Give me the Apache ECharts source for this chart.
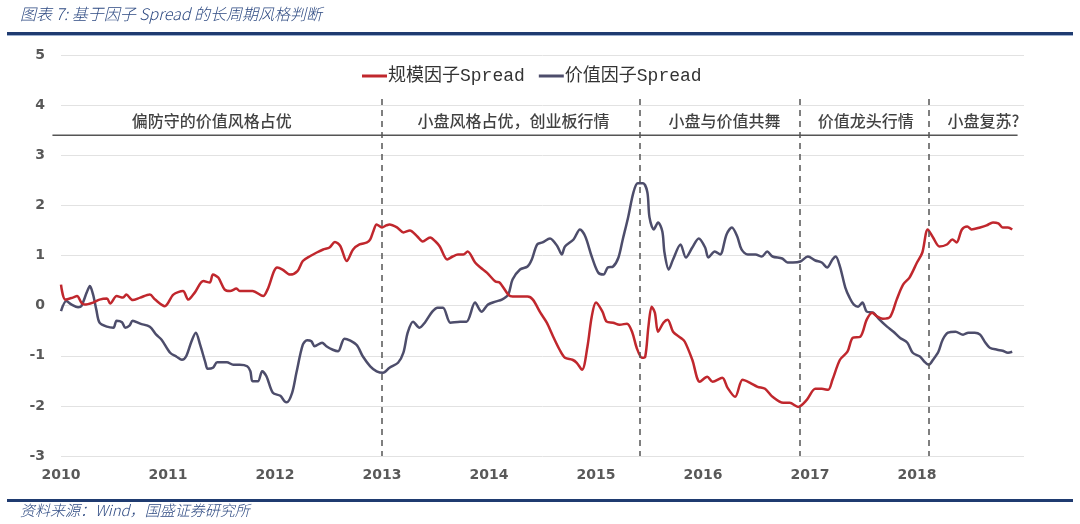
<!DOCTYPE html>
<html><head><meta charset="utf-8">
<script src="https://cdn.jsdelivr.net/npm/echarts@6/dist/echarts.min.js"></script>
<style>html,body{margin:0;padding:0;background:#fff}#c{width:1080px;height:524px}</style>
</head><body><div id="c"></div>
<script>
const titleText = '图表 7: 基于因子 Spread 的长周期风格判断';
const sourceText = '资料来源：Wind，国盛证券研究所';
const seriesNames = ['规模因子Spread', '价值因子Spread'];
const yearTicks = [2010, 2011, 2012, 2013, 2014, 2015, 2016, 2017, 2018];

// 规模因子Spread (red)
const sizeX = [2010.00,2010.04,2010.11,2010.15,2010.19,2010.22,2010.30,2010.36,2010.43,2010.46,2010.52,2010.58,2010.61,2010.67,2010.74,2010.83,2010.88,2010.97,
2011.05,2011.14,2011.19,2011.25,2011.33,2011.39,2011.42,2011.47,2011.53,2011.58,2011.64,2011.67,2011.79,2011.89,2011.93,
2012.02,2012.07,2012.14,2012.21,2012.26,2012.33,2012.39,2012.45,2012.51,2012.56,2012.61,2012.67,2012.73,2012.79,2012.86,2012.89,2012.92,2012.95,
2013.00,2013.04,2013.07,2013.14,2013.20,2013.26,2013.33,2013.38,2013.45,2013.50,2013.54,2013.61,2013.66,2013.71,2013.76,2013.80,2013.87,2013.92,2013.98,
2014.06,2014.10,2014.18,2014.22,2014.36,2014.41,2014.48,2014.54,2014.60,2014.66,2014.71,2014.78,2014.82,2014.87,2014.92,2014.96,
2015.00,2015.06,2015.10,2015.16,2015.22,2015.29,2015.34,2015.38,2015.43,2015.46,2015.49,2015.52,2015.55,2015.58,2015.63,2015.67,2015.72,2015.79,2015.83,2015.90,2015.97,
2016.04,2016.09,2016.18,2016.23,2016.30,2016.37,2016.44,2016.51,2016.58,2016.65,2016.75,2016.81,2016.89,2016.97,
2017.05,2017.11,2017.17,2017.21,2017.28,2017.35,2017.40,2017.47,2017.53,2017.58,2017.63,2017.68,2017.75,2017.81,2017.87,2017.93,
2018.00,2018.05,2018.10,2018.15,2018.21,2018.28,2018.33,2018.37,2018.42,2018.47,2018.51,2018.59,2018.65,2018.71,2018.76,2018.80,2018.85,2018.89];
const sizeY = [0.42,0.12,0.16,0.19,0.06,0.02,0.06,0.12,0.14,0.04,0.19,0.16,0.22,0.11,0.16,0.22,0.12,-0.01,
0.22,0.29,0.12,0.26,0.49,0.46,0.62,0.56,0.32,0.29,0.34,0.29,0.29,0.19,0.32,
0.76,0.72,0.62,0.69,0.89,0.99,1.06,1.12,1.16,1.27,1.19,0.89,1.12,1.22,1.26,1.32,1.49,1.62,
1.56,1.60,1.62,1.56,1.46,1.50,1.38,1.28,1.36,1.28,1.18,0.92,0.98,1.02,1.02,1.08,0.86,0.76,0.66,
0.48,0.46,0.22,0.18,0.18,0.12,-0.14,-0.34,-0.62,-0.88,-1.04,-1.08,-1.14,-1.28,-0.82,-0.22,
0.06,-0.12,-0.32,-0.34,-0.38,-0.36,-0.54,-0.84,-1.04,-1.02,-0.42,-0.02,-0.14,-0.52,-0.34,-0.28,-0.52,-0.64,-0.72,-1.08,-1.52,
-1.42,-1.52,-1.44,-1.64,-1.82,-1.48,-1.54,-1.62,-1.66,-1.82,-1.94,-1.94,-2.02,-1.88,
-1.66,-1.66,-1.68,-1.48,-1.08,-0.92,-0.64,-0.62,-0.28,-0.14,-0.22,-0.26,-0.22,0.12,0.42,0.56,
0.86,1.06,1.52,1.36,1.18,1.22,1.32,1.26,1.52,1.58,1.52,1.56,1.60,1.66,1.64,1.56,1.56,1.52];

// 价值因子Spread (slate)
const valueX = [2010.00,2010.05,2010.10,2010.16,2010.19,2010.24,2010.27,2010.30,2010.33,2010.36,2010.43,2010.49,2010.52,2010.57,2010.60,2010.64,2010.67,2010.74,2010.83,2010.89,2010.94,
2011.02,2011.08,2011.13,2011.17,2011.22,2011.26,2011.30,2011.35,2011.37,2011.42,2011.46,2011.55,2011.61,2011.67,2011.74,2011.77,2011.79,2011.84,2011.88,2011.92,2011.98,
2012.05,2012.09,2012.11,2012.16,2012.20,2012.26,2012.30,2012.34,2012.37,2012.44,2012.48,2012.54,2012.59,2012.65,2012.76,2012.82,2012.89,2012.95,
2013.01,2013.07,2013.15,2013.20,2013.24,2013.29,2013.35,2013.40,2013.47,2013.52,2013.57,2013.64,2013.73,2013.79,2013.87,2013.93,2013.99,
2014.06,2014.12,2014.18,2014.22,2014.29,2014.36,2014.40,2014.45,2014.50,2014.57,2014.64,2014.68,2014.71,2014.79,2014.85,2014.90,2014.96,
2015.02,2015.07,2015.11,2015.16,2015.21,2015.25,2015.30,2015.35,2015.39,2015.44,2015.48,2015.50,2015.54,2015.58,2015.62,2015.64,2015.68,2015.72,2015.79,2015.84,2015.90,2015.96,
2016.02,2016.05,2016.11,2016.16,2016.22,2016.27,2016.32,2016.36,2016.42,2016.49,2016.55,2016.60,2016.65,2016.74,2016.79,2016.84,2016.91,2016.98,
2017.05,2017.11,2017.16,2017.21,2017.24,2017.28,2017.33,2017.37,2017.41,2017.45,2017.49,2017.53,2017.59,2017.65,2017.72,2017.78,2017.84,2017.91,2017.96,
2018.03,2018.07,2018.11,2018.15,2018.20,2018.24,2018.29,2018.36,2018.43,2018.48,2018.54,2018.59,2018.64,2018.68,2018.75,2018.80,2018.85,2018.89];
const valueY = [-0.11,0.09,0.02,-0.03,-0.01,0.26,0.39,0.22,-0.08,-0.34,-0.42,-0.44,-0.30,-0.33,-0.44,-0.40,-0.30,-0.36,-0.42,-0.58,-0.68,
-0.94,-1.02,-1.08,-1.01,-0.71,-0.54,-0.78,-1.14,-1.26,-1.24,-1.13,-1.13,-1.18,-1.18,-1.21,-1.31,-1.51,-1.51,-1.31,-1.41,-1.74,
-1.80,-1.91,-1.93,-1.74,-1.34,-0.78,-0.69,-0.71,-0.81,-0.74,-0.81,-0.88,-0.91,-0.66,-0.78,-1.01,-1.21,-1.31,
-1.34,-1.24,-1.14,-0.94,-0.54,-0.32,-0.44,-0.34,-0.12,-0.04,-0.04,-0.34,-0.32,-0.32,0.06,-0.12,0.02,
0.08,0.12,0.22,0.52,0.72,0.78,0.92,1.22,1.26,1.34,1.18,1.02,1.18,1.32,1.52,1.38,0.98,
0.66,0.62,0.76,0.78,0.96,1.32,1.76,2.26,2.44,2.44,2.26,1.76,1.52,1.66,1.48,1.06,0.72,0.92,1.22,0.96,1.16,1.34,
1.16,0.96,1.08,1.02,1.42,1.56,1.38,1.12,1.02,1.02,0.98,1.08,0.98,0.94,0.86,0.86,0.88,0.98,
0.90,0.86,0.76,0.92,0.98,0.78,0.36,0.16,0.02,-0.02,0.06,-0.12,-0.14,-0.28,-0.42,-0.52,-0.64,-0.74,-0.94,
-1.02,-1.12,-1.18,-1.08,-0.92,-0.68,-0.54,-0.52,-0.58,-0.54,-0.54,-0.58,-0.74,-0.84,-0.88,-0.90,-0.94,-0.92];

// phase annotations
const phaseBreaks = [2013.0, 2015.41, 2016.90, 2018.11];
const breakSpan = [4.12, -3.0];
const phaseLabels = ['偏防守的价值风格占优', '小盘风格占优，创业板行情', '小盘与价值共舞', '价值龙头行情', '小盘复苏?'];
const phaseLabelX = [2011.41, 2014.23, 2016.20, 2017.52, 2018.62];
const phaseLabelY = 3.68;
const headerLineY = 3.4;
const headerLineX = [2009.92, 2018.94];

const RED = '#C0272D', SLATE = '#4D4D6B', NAVY = '#1F3B70', TITLE_BLUE = '#2E4A82';
const chart = echarts.init(document.getElementById('c'), null, {renderer: 'canvas'});
const axisFont = {fontFamily: 'DejaVu Sans', fontWeight: 'bold', fontSize: 14, color: '#595959'};

chart.setOption({
  animation: false,
  backgroundColor: '#fff',
  grid: {left: 61, right: 56, top: 55, bottom: 68},
  legend: {
    data: seriesNames, left: 357, top: 62, icon: 'rect', itemWidth: 25, itemHeight: 3, itemGap: 14,
    textStyle: {fontFamily: "'Liberation Mono','Noto Sans CJK SC'", fontSize: 18, color: '#333', padding: [0,0,0,-4]}
  },
  xAxis: {
    type: 'value', min: 2010, max: 2019, interval: 1,
    axisLine: {show: false}, axisTick: {show: false}, splitLine: {show: false},
    axisLabel: Object.assign({margin: 12, showMaxLabel: false,
      formatter: v => (yearTicks.indexOf(v) >= 0 ? String(v) : '')}, axisFont)
  },
  yAxis: {
    type: 'value', min: -3, max: 5, interval: 1,
    axisLine: {show: false}, axisTick: {show: false},
    splitLine: {lineStyle: {color: '#e2e2e2', width: 1}},
    axisLabel: Object.assign({margin: 16}, axisFont)
  },
  series: [
    {
      name: seriesNames[0], type: 'line', showSymbol: false, smooth: 0.3, z: 3,
      data: sizeX.map((x, i) => [x, sizeY[i]]),
      lineStyle: {color: RED, width: 2.5}, itemStyle: {color: RED},
      markLine: {
        silent: true, symbol: 'none', animation: false, label: {show: false},
        lineStyle: {color: '#555', width: 1.5, type: [6, 5]},
        data: phaseBreaks.map(x => [{coord: [x, breakSpan[0]]}, {coord: [x, breakSpan[1]]}])
      }
    },
    {
      name: seriesNames[1], type: 'line', showSymbol: false, smooth: 0.3, z: 2,
      data: valueX.map((x, i) => [x, valueY[i]]),
      lineStyle: {color: SLATE, width: 2.5}, itemStyle: {color: SLATE}
    },
    {
      name: 'phases', type: 'scatter', symbolSize: 0, silent: true,
      data: phaseLabelX.map((x, i) => [x, phaseLabelY]),
      label: {show: true, position: 'inside', formatter: p => phaseLabels[p.dataIndex],
        fontFamily: 'Noto Sans CJK SC', fontWeight: 500, fontSize: 16, color: '#111'}
    }
  ]
});

const p1 = chart.convertToPixel({gridIndex: 0}, [headerLineX[0], headerLineY]);
const p2 = chart.convertToPixel({gridIndex: 0}, [headerLineX[1], headerLineY]);
chart.setOption({
  graphic: [
    {id: 'title', type: 'text', left: 20, top: 6, style: {text: titleText, fontFamily: "'Noto Sans CJK SC'", fontStyle: 'italic', fontWeight: 300, fontSize: 16, fill: TITLE_BLUE}},
    {id: 'topRule', type: 'rect', shape: {x: 7, y: 32, width: 1066, height: 3}, style: {fill: NAVY}},
    {id: 'topRule2', type: 'rect', shape: {x: 7, y: 35, width: 1066, height: 1}, style: {fill: '#9DB0CF'}},
    {id: 'bottomRule', type: 'rect', shape: {x: 7, y: 499, width: 1066, height: 3}, style: {fill: NAVY}},
    {id: 'source', type: 'text', left: 20, top: 503, style: {text: sourceText, fontFamily: "'Noto Sans CJK SC'", fontStyle: 'italic', fontWeight: 300, fontSize: 15, fill: TITLE_BLUE}},
    {id: 'headerLine', type: 'line', shape: {x1: p1[0], y1: p1[1], x2: p2[0], y2: p2[1]}, style: {stroke: '#555', lineWidth: 1.5}}
  ]
});
</script></body></html>
